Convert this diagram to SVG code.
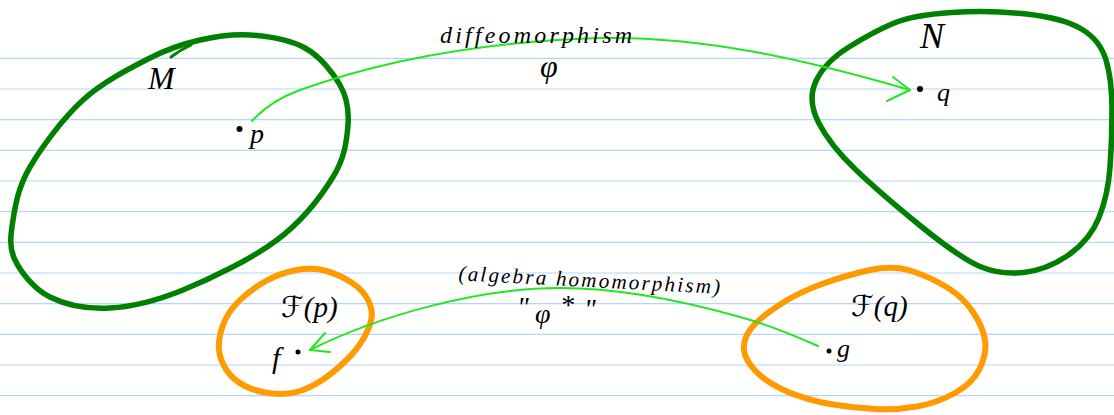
<svg xmlns="http://www.w3.org/2000/svg" width="1114" height="415" viewBox="0 0 1114 415">
<defs>
<style>
.rule{stroke:#b4d5fb;stroke-width:1.2}
.mf{fill:none;stroke:#008000;stroke-width:5.5;stroke-linejoin:round;stroke-linecap:round}
.of{fill:none;stroke:#ff9a00;stroke-width:6;stroke-linejoin:round;stroke-linecap:round}
.con{fill:none;stroke:#22e622;stroke-width:2;stroke-linecap:round;stroke-linejoin:round}
.lbl{font-family:"Liberation Serif","DejaVu Serif",serif;font-style:italic;fill:#000}
.sym{font-family:"DejaVu Sans","Liberation Serif",serif;fill:#000}
.dot{fill:#000}
</style>
</defs>
<rect width="1114" height="415" fill="#fff"/>
<g id="ruled">
<line class="rule" x1="0" y1="58.3" x2="1114" y2="58.3"/>
<line class="rule" x1="0" y1="89" x2="1114" y2="89"/>
<line class="rule" x1="0" y1="119.6" x2="1114" y2="119.6"/>
<line class="rule" x1="0" y1="150.3" x2="1114" y2="150.3"/>
<line class="rule" x1="0" y1="181" x2="1114" y2="181"/>
<line class="rule" x1="0" y1="211.6" x2="1114" y2="211.6"/>
<line class="rule" x1="0" y1="242.3" x2="1114" y2="242.3"/>
<line class="rule" x1="0" y1="273" x2="1114" y2="273"/>
<line class="rule" x1="0" y1="303.6" x2="1114" y2="303.6"/>
<line class="rule" x1="0" y1="334.3" x2="1114" y2="334.3"/>
<line class="rule" x1="0" y1="365" x2="1114" y2="365"/>
<line class="rule" x1="0" y1="395.6" x2="1114" y2="395.6"/>
</g>
<g id="M">
<path class="mf" d="M250,35 C267.5,36.3 290,39.7 305,48 C320,56.3 332.8,72.2 340,85 C347.2,97.8 349.2,109.7 348,125 C346.8,140.3 344.8,157.8 333,177 C321.2,196.2 302,221.2 277,240 C252,258.8 210.8,278.7 183,290 C155.2,301.3 132.2,306.8 110,308 C87.8,309.2 65.8,305 50,297 C34.2,289 21.2,272.8 15,260 C8.8,247.2 10.5,235.5 13,220 C15.5,204.5 18.3,187 30,167 C41.7,147 63,118.2 83,100 C103,81.8 130.5,68 150,58 C169.5,48 183.3,43.8 200,40 C216.7,36.2 232.5,33.7 250,35 Z"/>
<path d="M171,57 Q180,50 191,45" fill="none" stroke="#008000" stroke-width="3" stroke-linecap="round"/>
<text class="lbl" x="148" y="89" font-size="32">M</text>
<circle class="dot" cx="239.5" cy="129" r="3"/>
<text class="lbl" x="250" y="143" font-size="28">p</text>
</g>
<g id="N">
<path class="mf" d="M849,47 Q873,32 893,23.5 Q913,15 951.5,12.5 Q990,10 1026.5,14 Q1063,18 1081.5,29 Q1100,40 1106,60 Q1112,80 1112,110 Q1112,140 1110,167.5 Q1108,195 1099,217.5 Q1090,240 1068.5,255 Q1047,270 1023.5,272.5 Q1000,275 980,266.5 Q960,258 920,225.5 Q880,193 855,169 Q830,145 818.5,122.5 Q807,100 816,81 Q825,62 849,47 Z"/>
<text class="lbl" x="920" y="48" font-size="36">N</text>
<circle class="dot" cx="920" cy="89" r="3"/>
<text class="lbl" x="937" y="101" font-size="26">q</text>
</g>
<g id="Fp">
<path class="of" d="M296.5,270 Q313,267 326.5,271 Q340,275 351.5,282.5 Q363,290 368,300 Q373,310 371.5,318.5 Q370,327 363.5,338.5 Q357,350 345,361.5 Q333,373 321.5,380.5 Q310,388 298.5,391.5 Q287,395 272,393.5 Q257,392 245,386 Q233,380 226.5,370 Q220,360 219,350 Q218,340 222.5,326.5 Q227,313 238.5,301.5 Q250,290 265,281.5 Q280,273 296.5,270 Z"/>
<text class="lbl" x="281" y="317" font-size="29"><tspan class="sym" font-style="normal">ℱ</tspan>(p)</text>
<circle class="dot" cx="298" cy="352" r="2.5"/>
<text class="lbl" x="272" y="368" font-size="30">f</text>
</g>
<g id="Fq">
<path class="of" d="M870,270 Q893,265 911.5,271 Q930,277 946.5,287 Q963,297 973,312 Q983,327 985,340 Q987,353 980,368 Q973,383 955,393 Q937,403 917,406.5 Q897,410 875,409 Q853,408 830,404 Q807,400 787,391.5 Q767,383 756,371.5 Q745,360 744,350 Q743,340 750,330 Q757,320 777,306.5 Q797,293 822,284 Q847,275 870,270 Z"/>
<text class="lbl" x="851" y="316" font-size="29"><tspan class="sym" font-style="normal">ℱ</tspan>(q)</text>
<circle class="dot" cx="829" cy="351" r="2.5"/>
<text class="lbl" x="837" y="357" font-size="26">g</text>
</g>
<g id="connectors">
<path class="con" d="M252,121 C262,110 278,98 300,90 C370,65 470,42 600,38 C700,36 800,58 910,90"/>
<path class="con" d="M893,77 L910,90 L887,101"/>
<text class="lbl" x="440" y="43" font-size="24" textLength="192" lengthAdjust="spacing">diffeomorphism</text>
<text class="lbl" x="540" y="77" font-size="32">φ</text>
<path class="con" d="M818,346 C800,338 770,325 740,317 C680,300 620,288 560,288 C480,288 380,315 310,350"/>
<path class="con" d="M325,333 L310,350 L330,352"/>
<text class="lbl" x="458" y="287" font-size="21" textLength="262" lengthAdjust="spacing" transform="rotate(3 589 287)">(algebra homomorphism)</text>
<text class="lbl" font-size="28"><tspan x="517" y="316">"</tspan><tspan x="535" y="323">φ</tspan><tspan x="560" y="314">*</tspan><tspan x="584" y="318">"</tspan></text>
</g>
</svg>
